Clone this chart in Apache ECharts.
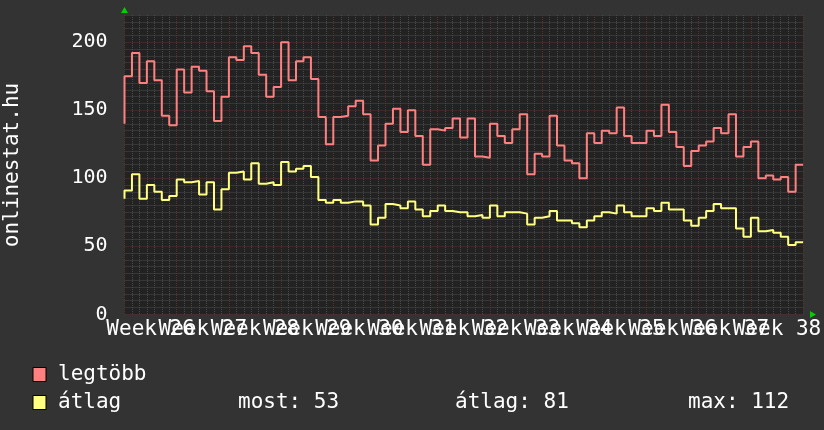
<!DOCTYPE html>
<html>
<head>
<meta charset="utf-8">
<title>onlinestat.hu</title>
<style>
    html, body { margin: 0; padding: 0; background: #333333; }
    #main { width: 824px; height: 430px; }
</style>
</head>
<body>
<div id="main"></div>
<script src="https://cdn.jsdelivr.net/npm/echarts@6/dist/echarts.min.js"></script>
<script type="text/javascript">
    // napi ertekek, 13 het; az elso elem a kezdo fuggoleges vonal elotti ertek
    var legtobb = [140,
        175, 192, 170, 186, 172, 146, 139, 180, 163, 182, 179, 164, 142, 160,
        189, 187, 197, 192, 176, 160, 167, 200, 172, 186, 189, 173, 145, 125,
        145, 146, 153, 157, 147, 113, 124, 140, 151, 134, 150, 131, 110, 136,
        135, 137, 144, 130, 144, 116, 115, 140, 131, 126, 136, 147, 103, 118,
        116, 146, 124, 113, 111, 100, 133, 126, 135, 133, 152, 131, 126, 126,
        135, 131, 154, 134, 123, 109, 120, 124, 127, 137, 133, 147, 116, 123,
        127, 100, 102, 99, 101, 90, 110];
    var atlag = [85,
        91, 103, 85, 95, 90, 84, 87, 99, 97, 98, 88, 97, 77, 92,
        104, 105, 99, 111, 96, 97, 95, 112, 105, 107, 109, 101, 84, 82,
        84, 82, 83, 83, 80, 66, 71, 81, 80, 78, 83, 77, 72, 76,
        80, 76, 75, 75, 72, 73, 71, 80, 72, 75, 75, 74, 66, 71,
        72, 76, 69, 69, 67, 64, 69, 72, 75, 74, 80, 75, 72, 72,
        78, 76, 82, 77, 77, 69, 65, 71, 76, 81, 78, 78, 63, 57,
        71, 61, 62, 60, 57, 51, 53];
    var weeks = ['Week 26', 'Week 27', 'Week 28', 'Week 29', 'Week 30', 'Week 31', 'Week 32',
        'Week 33', 'Week 34', 'Week 35', 'Week 36', 'Week 37', 'Week 38'];
    var seriesNames = ['legtöbb', 'átlag'];
    var seriesColors = ['#ff8080', '#ffff80'];
    var statNames = ['most', 'átlag', 'max'];
    var statValues = [53, 81, 112];

    var font = 'DejaVu Sans Mono';
    var minorColor = '#4a4a4a';
    var majorColor = '#5a3030';

    function toPoints(arr) {
        return arr.map(function (v, i) { return [i, v]; });
    }

    // minor racs: minden 50-es vonal atlatszo, azt a fo racs rajzolja
    var minorColors = ['rgba(0,0,0,0)'];
    for (var i = 1; i < 10; i++) minorColors.push(minorColor);

    var myChart = echarts.init(document.getElementById('main'));
    var option = {
        backgroundColor: '#333333',
        animation: false,
        grid: {
            left: 124.5, right: 14.5, top: 15, bottom: 115.7,
            show: true, backgroundColor: '#222222', borderWidth: 0
        },
        xAxis: [{
            type: 'value', min: 0, max: legtobb.length - 1, interval: 7, position: 'top',
            axisLine: { show: false }, axisTick: { show: false }, axisLabel: { show: false },
            splitLine: { show: true, lineStyle: { color: majorColor, type: [1, 1] } },
            minorTick: { show: false, splitNumber: 7 },
            minorSplitLine: { show: true, lineStyle: { color: minorColor, type: [1, 1] } }
        }, {
            type: 'category', data: weeks, position: 'bottom', boundaryGap: true,
            axisLine: { show: false }, axisTick: { show: false }, splitLine: { show: false },
            axisLabel: { interval: 0, color: '#ffffff', fontFamily: font, fontSize: 21, margin: 5 }
        }],
        yAxis: [{
            type: 'value', min: 0, max: 220, interval: 5, position: 'right',
            axisLine: { show: false }, axisTick: { show: false }, axisLabel: { show: false },
            splitLine: { show: true, lineStyle: { color: minorColors, type: [1, 1] } }
        }, {
            type: 'value', min: 0, max: 220, interval: 50, position: 'left',
            axisLine: { show: false }, axisTick: { show: false },
            axisLabel: {
                color: '#ffffff', fontFamily: font, fontSize: 20, margin: 17,
                formatter: function (v) { return v % 50 === 0 ? String(v) : ''; }
            },
            splitLine: {
                show: true,
                lineStyle: { color: [majorColor, majorColor, majorColor, majorColor, majorColor, 'rgba(0,0,0,0)'], type: [1, 1] }
            }
        }],
        series: [{
            name: seriesNames[0], type: 'line', step: 'start',
            xAxisIndex: 0, yAxisIndex: 1, showSymbol: false,
            lineStyle: { color: seriesColors[0], width: 2 },
            data: toPoints(legtobb)
        }, {
            name: seriesNames[1], type: 'line', step: 'start',
            xAxisIndex: 0, yAxisIndex: 1, showSymbol: false,
            lineStyle: { color: seriesColors[1], width: 2 },
            data: toPoints(atlag)
        }],
        graphic: [
            {
                type: 'text', x: 13, y: 165, rotation: Math.PI / 2,
                style: { text: 'onlinestat.hu', fill: '#ffffff', fontFamily: font, fontSize: 21, align: 'center', verticalAlign: 'middle' }
            },
            // zold nyilak a tengelyek vegen
            { type: 'polygon', shape: { points: [[121, 13], [128, 13], [124.5, 7]] }, style: { fill: '#00d000' } },
            { type: 'polygon', shape: { points: [[810, 311], [810, 318], [816, 314.5]] }, style: { fill: '#00d000' } },
            // jelmagyarazat
            { type: 'rect', shape: { x: 33, y: 367.5, width: 13, height: 14 }, style: { fill: seriesColors[0], stroke: '#000', lineWidth: 1 } },
            { type: 'rect', shape: { x: 33, y: 395.5, width: 13, height: 14 }, style: { fill: seriesColors[1], stroke: '#000', lineWidth: 1 } },
            { type: 'text', x: 58, y: 375, style: { text: seriesNames[0], fill: '#fff', fontFamily: font, fontSize: 21, verticalAlign: 'middle' } },
            { type: 'text', x: 58, y: 403, style: { text: seriesNames[1], fill: '#fff', fontFamily: font, fontSize: 21, verticalAlign: 'middle' } },
            { type: 'text', x: 238, y: 403, style: { text: statNames[0] + ': ' + statValues[0], fill: '#fff', fontFamily: font, fontSize: 21, verticalAlign: 'middle' } },
            { type: 'text', x: 455, y: 403, style: { text: statNames[1] + ': ' + statValues[1], fill: '#fff', fontFamily: font, fontSize: 21, verticalAlign: 'middle' } },
            { type: 'text', x: 688, y: 403, style: { text: statNames[2] + ': ' + statValues[2], fill: '#fff', fontFamily: font, fontSize: 21, verticalAlign: 'middle' } }
        ]
    };
    myChart.setOption(option);
</script>
</body>
</html>
